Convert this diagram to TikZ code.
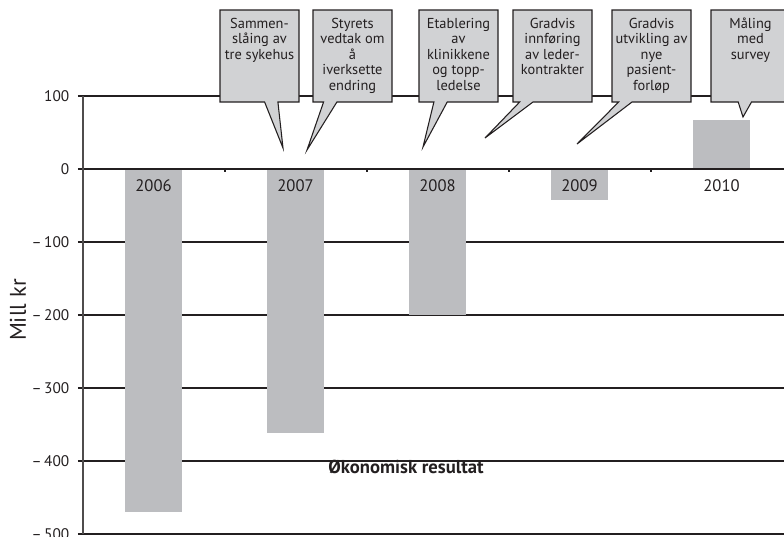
\documentclass[tikz,border=0pt]{standalone}
\usepackage{fontspec}
\setmainfont{PT Sans}
\usepackage{xcolor}
\usetikzlibrary{shapes.callouts}
\definecolor{ink}{HTML}{231F20}
\definecolor{barfill}{HTML}{BCBDC0}
\definecolor{boxfill}{HTML}{D1D2D4}
\newcommand{\calltext}[1]{\parbox[c][58pt][t]{58pt}{\centering\strut #1}}

\begin{document}
\begin{tikzpicture}[x=0.75pt,y=0.75pt,
  gridline/.style={ink,line width=1pt},
  barbox/.style={fill=barfill},
  note/.style={rectangle callout,draw=ink,fill=boxfill,line width=0.8pt,
               minimum width=59.25pt,minimum height=69pt,inner sep=0pt,
               callout pointer width=10pt,font=\fontsize{10.8}{11.6}\selectfont,text=ink},
  yr/.style={font=\fontsize{12.5}{14}\selectfont,text=ink},
  vallab/.style={anchor=east,font=\fontsize{11.5}{13}\selectfont,text=ink}]

  \useasboundingbox (-83,-367) rectangle (701,169);

  % Grid lines, ticks and values
  \foreach \v/\lab in {100/100,0/0,-100/{–\,100},-200/{–\,200},-300/{–\,300},-400/{–\,400},-500/{–\,500}}{
    \draw[gridline] (-5,{0.73*\v}) -- (701,{0.73*\v});
    \node[vallab] (v\v) at (-9,{0.73*\v}) {\lab};
  }

  % Bars
  \foreach \x/\v/\yr in {70.5/-470/2006,212.5/-362/2007,354.5/-200/2008,496.5/-43/2009,638.5/67/2010}{
    \fill[barbox] (\x-28.5,0) rectangle (\x+28.5,{0.73*\v});
    \node[yr] (y\yr) at (\x,-17) {\yr};
  }
  \draw[gridline] (0,0) -- (701,0);
  \foreach \x in {142,284,426,568}
    \draw[gridline] (\x,0) -- (\x,-3);
  \draw[ink!80,line width=1pt] (0,73) -- (0,-365);

  % Callouts
  \coordinate (t1) at (200,21);
  \coordinate (t2) at (224,19);
  \coordinate (t3) at (340,22);
  \coordinate (t4) at (402,31);
  \coordinate (t5) at (494,25);
  \coordinate (t6) at (660,52);

  \node[note,callout absolute pointer={(t1)}] (merge) at (176.5,113)
    {\calltext{Sammen-\\slåing av\\tre sykehus}};
  \node[note,callout absolute pointer={(t2)}] (board) at (269.5,113)
    {\calltext{Styrets\\vedtak om\\å\\iverksette\\endring}};
  \node[note,callout absolute pointer={(t3)}] (clinic) at (375.5,113)
    {\calltext{Etablering\\av\\klinikkene\\og topp-\\ledelse}};
  \node[note,callout absolute pointer={(t4)}] (lead) at (469.5,113)
    {\calltext{Gradvis\\innføring\\av leder-\\kontrakter}};
  \node[note,callout absolute pointer={(t5)}] (path) at (568.5,113)
    {\calltext{Gradvis\\utvikling av\\nye\\pasient-\\forløp}};
  \node[note,callout absolute pointer={(t6)}] (survey) at (667.5,113)
    {\calltext{Måling\\med\\survey}};

  % Titles
  \node[font=\fontsize{14}{16}\selectfont\bfseries,text=ink] (title) at (323,-298) {Økonomisk resultat};
  \node[rotate=90,font=\fontsize{17}{20}\selectfont,text=ink] (unit) at (-65,-141) {Mill kr};
\end{tikzpicture}
\end{document}
